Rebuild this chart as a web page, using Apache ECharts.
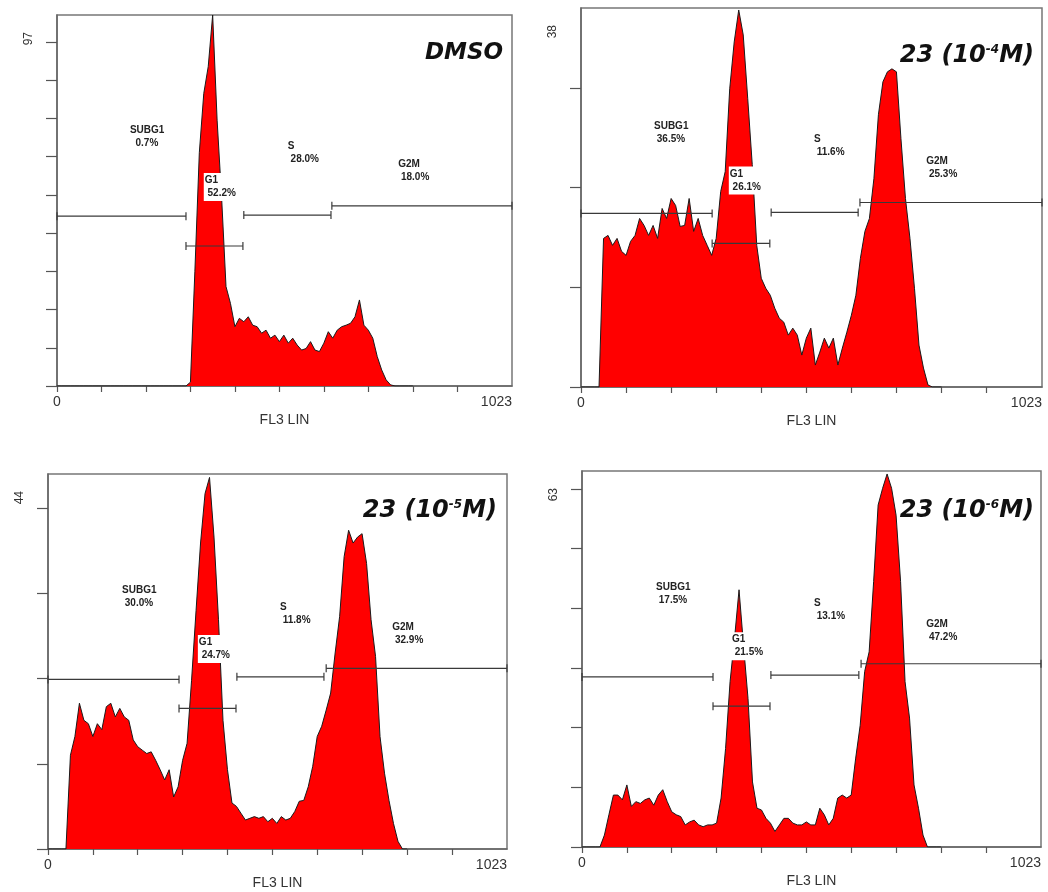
<!DOCTYPE html>
<html><head><meta charset="utf-8">
<script src="https://cdn.jsdelivr.net/npm/echarts@6/dist/echarts.min.js"></script>
<style>html,body{margin:0;padding:0;background:#fff}#c{width:1048px;height:892px}</style>
</head><body><div id="c"></div>
<script>
// ---------------- DATA ----------------
const channels = [0,10,20,30,40,50,60,70,80,90,100,110,120,130,140,150,160,170,180,190,200,210,220,230,240,250,260,270,280,290,300,310,320,330,340,350,360,370,380,390,400,410,420,430,440,450,460,470,480,490,500,510,520,530,540,550,560,570,580,590,600,610,620,630,640,650,660,670,680,690,700,710,720,730,740,750,760,770,780,790,800];

const countsDMSO = [0,0,0,0,0,0,0,0,0,0,0,0,0,0,0,0,0,0,0,0,0,0,0,0,0,0,0,0,0,0,
  1,30,61,76.5,83.5,97,69.5,49.5,26,21.6,
  15.5,17.7,16.8,18.1,15.9,15.5,13.8,14.6,12.5,13.3,
  11.6,13.3,11.2,12.5,10.7,9.4,9.8,11.6,9.4,9.0,
  11.2,14.2,12.5,14.6,15.5,15.9,16.4,18.1,22.5,15.9,
  14.6,12.5,7.7,4.2,1.6,0.3,
  0,0,0,0,0];

const counts1e4 = [0,0,0,0,0,
  14.9,15.2,14.2,14.9,13.6,13.2,14.6,15.2,16.9,16.2,
  15.2,16.2,14.9,17.9,16.9,18.9,18.2,16.1,16.2,18.9,
  15.6,16.9,15.2,14.2,13.2,14.9,19.6,21.6,29.9,34.6,
  37.8,35.3,28.9,22.3,14.2,10.9,9.9,9.2,7.9,6.9,
  6.5,5.2,5.9,5.2,3.2,4.9,5.9,2.2,3.5,4.9,
  3.9,4.9,2.2,3.9,5.5,7.2,9.2,12.9,15.6,16.9,
  20.9,27.3,30.6,31.6,31.9,31.6,24.9,18.9,14.9,9.9,
  4.2,1.9,0.2,
  0,0,0];

const counts1e5 = [0,0,0,0,0,
  11,13.2,17.1,15.1,14.7,13.2,14.7,14.0,16.7,17.1,
  15.5,16.5,15.5,15.1,12.8,12.0,11.6,11.2,11.4,10.4,
  9.3,8.1,9.3,6.1,7.3,10.4,12.4,19.8,28.0,35.9,
  41.7,43.6,36.6,26.9,15.1,9.3,5.4,5.0,4.2,3.4,
  3.6,3.8,3.6,3.8,3.2,3.6,3.0,3.8,3.4,3.6,
  4.4,5.6,5.7,7.3,9.7,13.2,14.4,16.3,18.3,23.0,
  27.3,34.3,37.4,35.9,36.6,37.0,33.5,26.9,22.6,13.2,
  8.9,5.7,3.0,0.9,
  0,0];

const counts1e6 = [0,0,0,0,0,
  2,5.4,8.7,8.7,7.9,10.4,6.8,7.6,7.3,7.9,
  8.2,7.0,8.7,9.6,7.6,5.9,5.4,5.1,3.7,4.2,
  4.5,3.7,3.4,3.7,3.7,4.0,8.2,16.5,27.7,35.0,
  43.1,33.8,24.9,10.9,6.5,6.2,4.8,4.0,2.6,3.7,
  4.8,4.8,4.0,3.7,3.7,4.2,3.7,3.7,6.5,5.4,
  3.7,4.8,8.2,8.7,8.2,8.7,14.9,20.4,29.4,32.7,
  44.5,57.3,60.1,62.5,60.1,55.6,44.5,27.7,21.6,10.4,
  6.5,2.0,
  0,0,0,0];

const panelTitles = ['DMSO', '23 (10-4M)', '23 (10-5M)', '23 (10-6M)'];
const yMaxValues = [97, 38, 44, 63];
const yTickValues = [
  [0,10,20,30,40,50,60,70,80,90],
  [0,10,20,30],
  [0,10,20,30,40],
  [0,10,20,30,40,50,60]
];
const xTickValues = [0,100,200,300,400,500,600,700,800,900];
const xTickLabels = [0, 1023];
const xAxisName = 'FL3 LIN';

const gateNames = ['SUBG1', 'G1', 'S', 'G2M'];
// channel ranges of each gate [from, to]
const gatesDMSO = [[0,290],[290,418],[420,616],[618,1023]];
const gates1e4  = [[0,291],[291,419],[422,615],[619,1023]];
const gates1e5  = [[0,292],[292,419],[421,615],[620,1023]];
const gates1e6  = [[0,292],[292,419],[421,617],[622,1023]];
// percentage of cells in each gate
const pctDMSO = [0.7, 52.2, 28.0, 18.0];
const pct1e4  = [36.5, 26.1, 11.6, 25.3];
const pct1e5  = [30.0, 24.7, 11.8, 32.9];
const pct1e6  = [17.5, 21.5, 13.1, 47.2];

// ---------------- LAYOUT ----------------
const counts = [countsDMSO, counts1e4, counts1e5, counts1e6];
const gates = [gatesDMSO, gates1e4, gates1e5, gates1e6];
const pcts = [pctDMSO, pct1e4, pct1e5, pct1e6];

const gridBoxes = [
  {left:57, top:15, width:455, height:371},
  {left:581, top:8, width:461, height:379},
  {left:48, top:474, width:459, height:375},
  {left:582, top:471, width:459, height:376}
];
// display level of gate bars (in count units) for each panel
const gateLevels = [
  [44.4, 36.6, 44.7, 47.1],
  [17.4, 14.4, 17.5, 18.5],
  [19.9, 16.5, 20.2, 21.2],
  [28.5, 23.6, 28.8, 30.7]
];
// anchor (top-left) of each gate text, in axis units
const textAnchors = [
  [[164,68.5],[330,55.7],[519,64.3],[767,59.6]],
  [[162,26.8],[328,22.1],[517,25.5],[766,23.3]],
  [[165,31.1],[334,25.1],[517,29.1],[767,26.8]],
  [[165,44.6],[332,36.0],[517,41.9],[767,38.4]]
];
const titlePos = [
  {right:545, top:42},
  {right:14, top:44},
  {right:551, top:499},
  {right:14, top:499}
];

function titleRich(t) {
  const m = t.match(/^(.*\(10)(-\d)(M\))$/);
  if (!m) return '{b|' + t + '}';
  return '{a|' + m[1] + '}{s|' + m[2] + '}{a|' + m[3] + '}';
}

const grid = [], xAxis = [], yAxis = [], series = [], title = [];
for (let i = 0; i < 4; i++) {
  grid.push(Object.assign({show:true, borderColor:'#777', borderWidth:1.5, containLabel:false}, gridBoxes[i]));
  xAxis.push({
    type:'value', gridIndex:i, min:0, max:1023,
    axisLine:{show:true, onZero:false, lineStyle:{color:'#666', width:1.5}},
    axisTick:{show:true, customValues:xTickValues, length:6, lineStyle:{color:'#555', width:1.2}},
    axisLabel:{show:true, customValues:xTickLabels, margin:9, fontSize:14, color:'#333',
      fontFamily:'Liberation Sans', alignMaxLabel:'right', formatter: v => String(v)},
    splitLine:{show:false},
    name:xAxisName, nameLocation:'middle', nameGap:27,
    nameTextStyle:{fontSize:14, color:'#333', fontFamily:'Liberation Sans'}
  });
  yAxis.push({
    type:'value', gridIndex:i, min:0, max:yMaxValues[i],
    axisLine:{show:true, onZero:false, lineStyle:{color:'#666', width:1.5}},
    axisTick:{show:true, customValues:yTickValues[i], length:11, lineStyle:{color:'#555', width:1.2}},
    axisLabel:{show:true, customValues:[yMaxValues[i]], rotate:90, align:'right',
      padding:[0,17,0,0], margin:22, fontSize:12, color:'#333', fontFamily:'Liberation Sans',
      formatter: v => String(v)},
    splitLine:{show:false}
  });
  series.push({
    type:'line', xAxisIndex:i, yAxisIndex:i, z:2,
    data: channels.map((c, k) => [c, counts[i][k]]),
    showSymbol:false, symbol:'none', silent:true,
    lineStyle:{color:'#1a1a1a', width:1},
    areaStyle:{color:'#ff0000', opacity:1}
  });
  series.push({
    type:'custom', xAxisIndex:i, yAxisIndex:i, z:3, silent:true,
    data: gates[i].map((g, k) => [g[0], g[1], gateLevels[i][k]]),
    renderItem: function (params, api) {
      const a = api.coord([api.value(0), api.value(2)]);
      const b = api.coord([api.value(1), api.value(2)]);
      const st = {stroke:'#3a3a3a', lineWidth:1.2};
      return {type:'group', children:[
        {type:'line', shape:{x1:a[0], y1:a[1], x2:b[0], y2:b[1]}, style:st},
        {type:'line', shape:{x1:a[0], y1:a[1]-4, x2:a[0], y2:a[1]+4}, style:st},
        {type:'line', shape:{x1:b[0], y1:b[1]-4, x2:b[0], y2:b[1]+4}, style:st}
      ]};
    }
  });
  series.push({
    type:'scatter', xAxisIndex:i, yAxisIndex:i, z:5, silent:true,
    symbolSize:0, itemStyle:{opacity:1},
    data: gateNames.map((n, k) => {
      const p = pcts[i][k];
      const txt = n + '\n' + (p < 10 ? '  ' : ' ') + p.toFixed(1) + '%';
      const item = {value: textAnchors[i][k], name: txt};
      if (n === 'G1') item.label = {backgroundColor:'#ffffff', padding:[1,2,1,1], opacity:1};
      return item;
    }),
    label:{show:true, position:[0,0], align:'left', verticalAlign:'top', opacity:1,
      formatter: p => p.name, fontSize:10, fontWeight:'bold', lineHeight:13,
      color:'#222', fontFamily:'Liberation Sans'}
  });
  title.push(Object.assign({
    text: titleRich(panelTitles[i]), padding:0,
    textStyle:{rich:{
      a:{fontSize:24, fontStyle:'italic', fontWeight:'bold', fontFamily:'DejaVu Sans', color:'#111'},
      s:{fontSize:12, fontStyle:'italic', fontWeight:'bold', fontFamily:'DejaVu Sans', color:'#111', verticalAlign:'top'},
      b:{fontSize:23, fontStyle:'italic', fontWeight:'bold', fontFamily:'DejaVu Sans', color:'#111'}
    }}
  }, titlePos[i]));
}

const chart = echarts.init(document.getElementById('c'), null, {renderer:'canvas'});
chart.setOption({animation:false, backgroundColor:'#fff', title, grid, xAxis, yAxis, series});
</script>
</body></html>
